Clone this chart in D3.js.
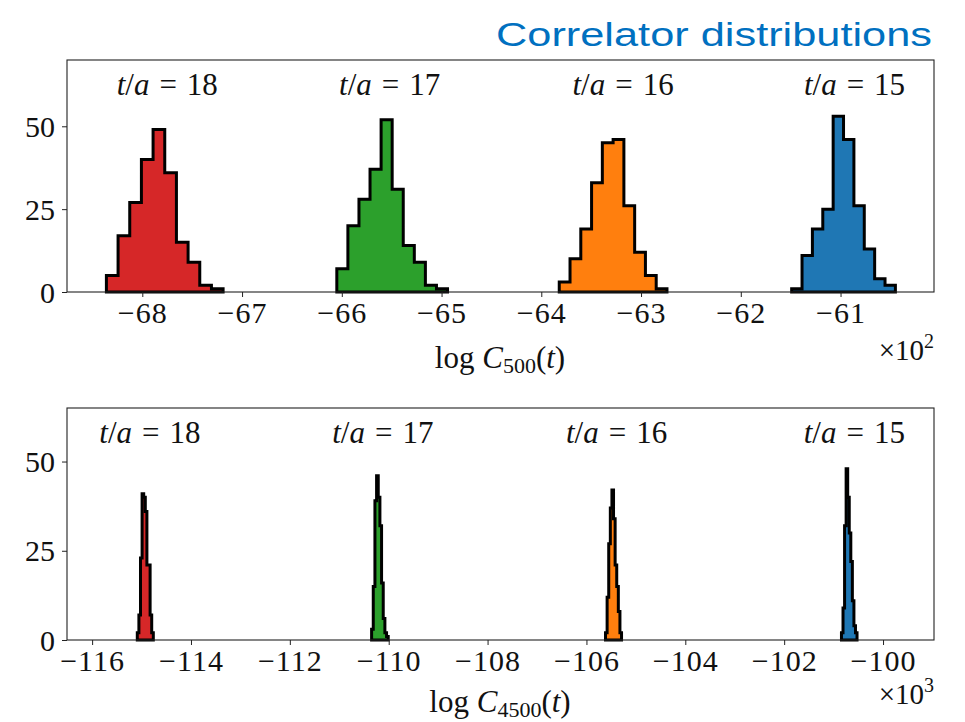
<!DOCTYPE html>
<html>
<head>
<meta charset="utf-8">
<script src="https://cdn.jsdelivr.net/npm/d3@7"></script>
<style>
  body { margin: 0; background: #fff; }
  svg { display: block; }
  .tick text { font-family: "Liberation Serif", serif; }
</style>
</head>
<body>
<div id="chart"></div>
<script>
// time slices, colours shared by both panels
var slices = [18, 17, 16, 15]
var colors = ["#d62728", "#2ca02c", "#ff7f0e", "#1f77b4"]

// top panel: log C_500(t), 10 bins each, [first edge, last edge]
var topRanges = [[-6836, -6719], [-6605, -6494], [-6382, -6274], [-6149, -6045]]
var topCounts = [
  [5, 17, 27, 40, 49, 36, 15, 9, 2, 1],
  [7, 20, 28, 37, 52, 31, 14, 9, 2, 1],
  [3, 10, 19, 33, 45, 46, 26, 12, 5, 1],
  [1, 11, 19, 25, 53, 46, 26, 13, 4, 2]
]
var topLabelX = [-6775, -6552, -6318, -6086]
var topTicks = [-6800, -6700, -6600, -6500, -6400, -6300, -6200, -6100]
var topYTicks = [0, 25, 50]

// bottom panel: log C_4500(t)
var botRanges = [[-115086, -114762], [-110346, -110010], [-105614, -105290], [-100841, -100526]]
var botCounts = [
  [2, 7, 23, 41, 40, 36, 21, 21, 7, 2],
  [3, 15, 39, 46, 40, 32, 16, 6, 2, 1],
  [2, 12, 27, 37, 42, 34, 21, 15, 8, 2],
  [2, 9, 32, 48, 40, 30, 22, 11, 4, 2]
]
var botLabelX = [-114830, -110120, -105390, -100580]
var botTicks = [-116000, -114000, -112000, -110000, -108000, -106000, -104000, -102000, -100000]
var botYTicks = [0, 25, 50]

var W = 965, H = 722
var svg = d3.select("#chart").append("svg").attr("width", W).attr("height", H)

var serif = "'Liberation Serif', serif"

svg.append("text")
  .attr("x", 932).attr("y", 46)
  .attr("text-anchor", "end")
  .attr("textLength", 436)
  .attr("lengthAdjust", "spacingAndGlyphs")
  .style("font-family", "'Liberation Sans', Arial, sans-serif")
  .style("font-size", "34px")
  .style("fill", "#0070c0")
  .text("Correlator distributions")

function minus(v) {
  return v < 0 ? "\u2212" + Math.abs(v) : "" + v
}

function panel(opt) {
  var x = d3.scaleLinear().domain(opt.xdom).range([67, 934])
  var y = d3.scaleLinear().domain(opt.ydom).range([opt.bottom, opt.top])
  var g = svg.append("g")

  // histograms, stepfilled
  var line = d3.line()
    .x(function(d) { return x(d[0]) })
    .y(function(d) { return y(d[1]) })
    .curve(d3.curveStepAfter)

  opt.counts.forEach(function(c, i) {
    var r = opt.ranges[i]
    var step = (r[1] - r[0]) / c.length
    var pts = [[r[0], 0]]
    c.forEach(function(v, j) { pts.push([r[0] + j * step, v]) })
    pts.push([r[1], 0])
    g.append("path")
      .attr("d", line(pts) + "Z")
      .attr("fill", colors[i])
      .attr("stroke", "#000")
      .attr("stroke-width", 3)
      .attr("stroke-linejoin", "miter")
  })

  // frame
  g.append("rect")
    .attr("x", 67).attr("y", opt.top)
    .attr("width", 867).attr("height", opt.bottom - opt.top)
    .attr("fill", "none")
    .attr("stroke", "#222")
    .attr("stroke-width", 1.1)

  var xa = g.append("g")
    .attr("transform", "translate(0," + opt.bottom + ")")
    .call(d3.axisBottom(x).tickValues(opt.ticks).tickSize(5).tickPadding(5)
      .tickFormat(function(d) { return minus(d / opt.scale) }))
  var ya = g.append("g")
    .attr("transform", "translate(67,0)")
    .call(d3.axisLeft(y).tickValues(opt.yticks).tickSize(5).tickPadding(7))
  ;[xa, ya].forEach(function(a) {
    a.select(".domain").remove()
    a.selectAll(".tick line").attr("stroke", "#222")
    a.selectAll(".tick text").style("font-size", "30px").attr("fill", "#111")
  })
  xa.selectAll(".tick text").style("letter-spacing", "1px")
  ya.selectAll(".tick text").attr("dy", "0.34em")

  // t/a labels
  opt.labelX.forEach(function(lx, i) {
    var t = g.append("text")
      .attr("x", x(lx)).attr("y", opt.top + 35)
      .attr("text-anchor", "middle")
      .style("font-family", serif)
      .style("font-size", "31px")
      .attr("fill", "#111")
    t.append("tspan").style("font-style", "italic").text("t")
    t.append("tspan").text("/")
    t.append("tspan").style("font-style", "italic").text("a")
    t.append("tspan").attr("dx", 10).text("=")
    t.append("tspan").attr("dx", 10).text(slices[i])
  })

  // axis label
  var xl = g.append("text")
    .attr("x", 500).attr("y", opt.bottom + opt.labelDy)
    .attr("text-anchor", "middle")
    .style("font-family", serif)
    .style("font-size", "31px")
    .attr("fill", "#111")
  xl.append("tspan").text("log ")
  xl.append("tspan").style("font-style", "italic").text("C")
  xl.append("tspan").attr("dy", 5).style("font-size", "22px").text(opt.sub)
  xl.append("tspan").attr("dy", -5).text("(")
  xl.append("tspan").style("font-style", "italic").text("t")
  xl.append("tspan").text(")")

  // offset text
  var off = g.append("text")
    .attr("x", 934).attr("y", opt.bottom + opt.offDy)
    .attr("text-anchor", "end")
    .style("font-family", serif)
    .style("font-size", "29px")
    .attr("fill", "#111")
  off.append("tspan").text("\u00d710")
  off.append("tspan").attr("dy", -12).style("font-size", "20px").text(opt.exp)
}

panel({ top: 60, bottom: 292, xdom: [-6875.5, -6006.3], ydom: [0, 70],
  ranges: topRanges, counts: topCounts, labelX: topLabelX, ticks: topTicks,
  yticks: topYTicks, scale: 100, sub: "500", exp: "2", labelDy: 76, offDy: 68 })

panel({ top: 408, bottom: 640, xdom: [-116508, -98969], ydom: [0, 65],
  ranges: botRanges, counts: botCounts, labelX: botLabelX, ticks: botTicks,
  yticks: botYTicks, scale: 1000, sub: "4500", exp: "3", labelDy: 72, offDy: 64 })
</script>
</body>
</html>
